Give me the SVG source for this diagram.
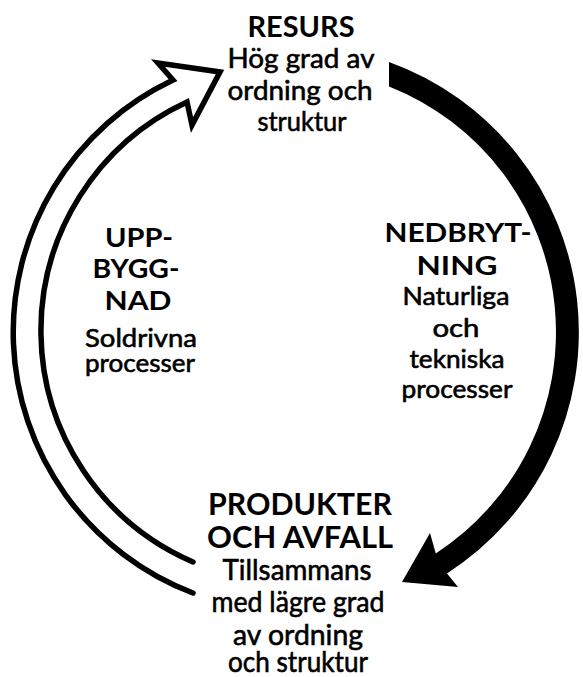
<svg xmlns="http://www.w3.org/2000/svg" width="583" height="677" viewBox="0 0 583 677">
  <style>
    text { font-family: Lato, "Open Sans", "Liberation Sans", sans-serif; fill: #000; text-anchor: middle; }
    .head { font-weight: bold; }
    .body { font-weight: normal; stroke: #000; stroke-width: 0.6; }
    .flow-dark { fill: #000; stroke: none; }
    .flow-open { fill: none; stroke: #000; stroke-width: 5.5; stroke-linejoin: miter; stroke-linecap: round; }
  </style>
  <rect width="583" height="677" fill="#fff"/>

  <!-- cycle arrows, both centred on (292,332) -->
  <g id="connectors">
    <!-- breakdown: solid arrow down the right side -->
    <path id="arrow-nedbrytning" class="flow-dark"
          d="M 389 62 A 287 287 0 0 1 447 573.5 L 458 587 L 402 582 L 430 533 L 435.8 553.4 A 264 264 0 0 0 389 86.5 Z"/>
    <!-- build-up: outlined arrow up the left side, open at its tail -->
    <path id="arrow-uppbyggnad" class="flow-open"
          d="M 193 593 A 279 279 0 0 1 173 80 L 158 63 L 220 72 L 192 125 L 187 102 A 252 252 0 0 0 193 562"/>
  </g>

  <g id="resurs">
    <text class="head" x="301" y="37" font-size="29" textLength="107" lengthAdjust="spacingAndGlyphs">RESURS</text>
    <text class="body" x="301" y="68" font-size="27" textLength="147" lengthAdjust="spacingAndGlyphs">Hög grad av</text>
    <text class="body" x="300" y="100" font-size="27" textLength="145" lengthAdjust="spacingAndGlyphs">ordning och</text>
    <text class="body" x="302" y="131" font-size="27" textLength="89" lengthAdjust="spacingAndGlyphs">struktur</text>
  </g>

  <g id="uppbyggnad">
    <text class="head" x="139" y="247" font-size="27" textLength="68" lengthAdjust="spacingAndGlyphs">UPP-</text>
    <text class="head" x="136" y="278" font-size="27" textLength="87" lengthAdjust="spacingAndGlyphs">BYGG-</text>
    <text class="head" x="138" y="310" font-size="27" textLength="67" lengthAdjust="spacingAndGlyphs">NAD</text>
    <text class="body" x="141" y="347" font-size="25" textLength="112" lengthAdjust="spacingAndGlyphs">Soldrivna</text>
    <text class="body" x="140" y="372" font-size="25" textLength="110" lengthAdjust="spacingAndGlyphs">processer</text>
  </g>

  <g id="nedbrytning">
    <text class="head" x="458" y="242" font-size="27" textLength="147" lengthAdjust="spacingAndGlyphs">NEDBRYT-</text>
    <text class="head" x="457" y="275" font-size="27" textLength="81" lengthAdjust="spacingAndGlyphs">NING</text>
    <text class="body" x="456" y="305" font-size="25" textLength="107" lengthAdjust="spacingAndGlyphs">Naturliga</text>
    <text class="body" x="456" y="337" font-size="25" textLength="47" lengthAdjust="spacingAndGlyphs">och</text>
    <text class="body" x="457" y="368" font-size="25" textLength="95" lengthAdjust="spacingAndGlyphs">tekniska</text>
    <text class="body" x="457" y="398" font-size="25" textLength="111" lengthAdjust="spacingAndGlyphs">processer</text>
  </g>

  <g id="produkter">
    <text class="head" x="300" y="515" font-size="31" textLength="184" lengthAdjust="spacingAndGlyphs">PRODUKTER</text>
    <text class="head" x="300" y="548" font-size="31" textLength="186" lengthAdjust="spacingAndGlyphs">OCH AVFALL</text>
    <text class="body" x="297" y="580" font-size="29" textLength="149" lengthAdjust="spacingAndGlyphs">Tillsammans</text>
    <text class="body" x="298" y="612" font-size="29" textLength="173" lengthAdjust="spacingAndGlyphs">med lägre grad</text>
    <text class="body" x="298" y="645" font-size="29" textLength="130" lengthAdjust="spacingAndGlyphs">av ordning</text>
    <text class="body" x="298" y="672" font-size="29" textLength="140" lengthAdjust="spacingAndGlyphs">och struktur</text>
  </g>
</svg>
